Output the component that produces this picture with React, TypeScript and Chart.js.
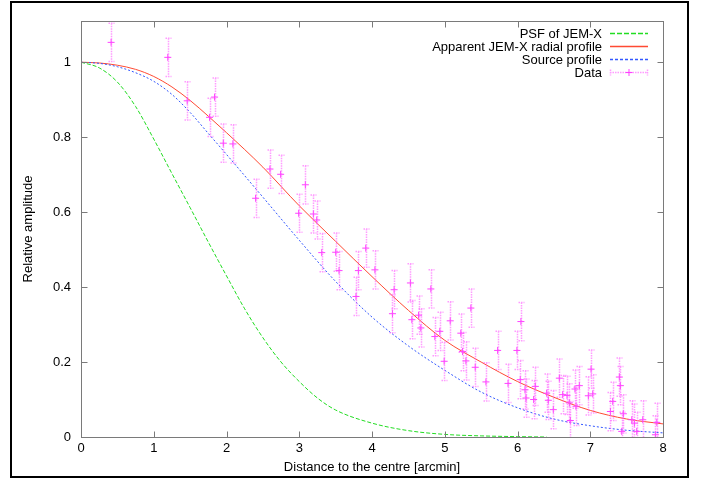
import { useEffect, useRef } from "react";
import { Chart, registerables } from "chart.js";

Chart.register(...registerables);

const X_TICKS = [0, 1, 2, 3, 4, 5, 6, 7, 8];
const Y_TICKS = [0, 0.2, 0.4, 0.6, 0.8, 1];
const Y_TICK_LABELS = ["0", "0.2", "0.4", "0.6", "0.8", "1"];

const X_TITLE = "Distance to the centre [arcmin]";
const Y_TITLE = "Relative amplitude";

const SERIES_LABELS = ["PSF of JEM-X", "Apparent JEM-X radial profile", "Source profile", "Data"];

const PSF_X = [0, 0.25, 0.5, 0.75, 1.0, 1.25, 1.5, 1.75, 2.0, 2.25, 2.5, 2.75, 3.0, 3.25, 3.5, 4.0, 4.5, 5.0, 5.5, 6.0, 6.4];
const PSF_Y = [1.0, 0.985, 0.947, 0.882, 0.795, 0.703, 0.612, 0.52, 0.43, 0.342, 0.265, 0.2, 0.148, 0.104, 0.072, 0.037, 0.017, 0.007, 0.003, 0.001, 0.0];

const APP_X = [0, 0.25, 0.5, 0.75, 1.0, 1.25, 1.5, 1.75, 2.0, 2.5, 3.0, 3.5, 4.0, 4.5, 5.0, 5.5, 6.0, 6.5, 7.0, 7.5, 8.0];
const APP_Y = [1.0, 0.998, 0.992, 0.981, 0.962, 0.934, 0.898, 0.856, 0.812, 0.72, 0.617, 0.522, 0.428, 0.338, 0.258, 0.2, 0.148, 0.106, 0.071, 0.048, 0.035];

const SRC_X = [0, 0.25, 0.5, 0.75, 1.0, 1.25, 1.5, 1.75, 2.0, 2.5, 3.0, 3.5, 4.0, 4.5, 5.0, 5.5, 6.0, 6.5, 7.0, 7.5, 8.0];
const SRC_Y = [1.0, 0.997, 0.988, 0.972, 0.949, 0.914, 0.866, 0.81, 0.754, 0.64, 0.525, 0.415, 0.32, 0.243, 0.178, 0.12, 0.078, 0.048, 0.03, 0.018, 0.011];

const DATA_X = [
  0.414, 1.193, 1.46, 1.767, 1.836, 1.956, 2.088, 2.4, 2.597, 2.744,
  2.992, 3.084, 3.194, 3.24, 3.309, 3.501, 3.547, 3.78, 3.813, 3.914,
  4.04, 4.281, 4.304, 4.528, 4.548, 4.64, 4.671, 4.809, 4.864, 4.932,
  4.992, 5.075, 5.221, 5.245, 5.291, 5.359, 5.419, 5.566, 5.727, 5.87,
  5.992, 6.038, 6.047, 6.103, 6.117, 6.222, 6.245, 6.401, 6.424, 6.492,
  6.575, 6.621, 6.681, 6.713, 6.726, 6.79, 6.804, 6.85, 6.974, 7.011,
  7.034, 7.277, 7.309, 7.4, 7.414, 7.433, 7.455, 7.571, 7.607, 7.639,
  7.722, 7.896, 7.915,
];
const DATA_Y = [
  1.053, 1.013, 0.897, 0.853, 0.907, 0.784, 0.782, 0.637, 0.715, 0.701,
  0.597, 0.673, 0.595, 0.579, 0.492, 0.493, 0.444, 0.375, 0.444, 0.504,
  0.446, 0.329, 0.393, 0.411, 0.313, 0.325, 0.291, 0.395, 0.268, 0.282,
  0.202, 0.31, 0.277, 0.228, 0.203, 0.344, 0.186, 0.147, 0.231, 0.143,
  0.231, 0.153, 0.308, 0.126, 0.104, 0.1, 0.135, 0.117, 0.098, 0.073,
  0.157, 0.113, 0.111, 0.091, 0.044, 0.128, 0.082, 0.137, 0.11, 0.181,
  0.115, 0.068, 0.095, 0.16, 0.137, 0.015, 0.062, 0.046, 0.037, 0.015,
  0.046, 0.006, 0.039,
];
const DATA_ERR = 0.051;

const GREEN = "#22dd22";
const RED = "#ff4a33";
const BLUE = "#3358ff";
const MAGENTA = "#ff40ff";
const BAR = "rgba(255,90,255,0.6)";
const FONT = "'Liberation Sans', Arial, Helvetica, sans-serif";
const FS = 13;

const toPts = (xs: number[], ys: number[]) => xs.map((x, i) => ({ x, y: ys[i] }));

const gnuplotPlugin = {
  id: "gnuplotDecor",
  beforeDraw(chart: any) {
    const { ctx, width, height } = chart;
    ctx.save();
    ctx.fillStyle = "#fff";
    ctx.fillRect(0, 0, width, height);
    ctx.restore();
  },
  afterDatasetsDraw(chart: any) {
    const { ctx, chartArea: a, scales } = chart;
    const xs = scales.x;
    const ys = scales.y;
    ctx.save();
    ctx.beginPath();
    ctx.rect(a.left, a.top, a.right - a.left, a.bottom - a.top);
    ctx.clip();
    ctx.strokeStyle = BAR;
    ctx.lineWidth = 1.5;
    ctx.setLineDash([1.5, 1]);
    for (let i = 0; i < DATA_X.length; i++) {
      const px = Math.round(xs.getPixelForValue(DATA_X[i])) + 0.5;
      const top = ys.getPixelForValue(DATA_Y[i] + DATA_ERR);
      const bot = ys.getPixelForValue(DATA_Y[i] - DATA_ERR);
      ctx.beginPath();
      ctx.moveTo(px, top);
      ctx.lineTo(px, bot);
      ctx.moveTo(px - 3, top);
      ctx.lineTo(px + 3, top);
      ctx.moveTo(px - 3, bot);
      ctx.lineTo(px + 3, bot);
      ctx.stroke();
    }
    ctx.restore();
  },
  afterDraw(chart: any) {
    const { ctx, chartArea: a, scales } = chart;
    const xs = scales.x;
    const ys = scales.y;
    ctx.save();
    // plot border
    ctx.strokeStyle = "#7a7a7a";
    ctx.lineWidth = 1;
    ctx.setLineDash([]);
    const L = Math.round(a.left) + 0.5;
    const R = Math.round(a.right) + 0.5;
    const T = Math.round(a.top) + 0.5;
    const B = Math.round(a.bottom) + 0.5;
    ctx.strokeRect(L, T, R - L, B - T);
    // inward ticks
    const tl = 6;
    ctx.beginPath();
    X_TICKS.forEach((v) => {
      const px = Math.round(xs.getPixelForValue(v)) + 0.5;
      ctx.moveTo(px, B);
      ctx.lineTo(px, B - tl);
      ctx.moveTo(px, T);
      ctx.lineTo(px, T + tl);
    });
    Y_TICKS.forEach((v) => {
      const py = Math.round(ys.getPixelForValue(v)) + 0.5;
      ctx.moveTo(L, py);
      ctx.lineTo(L + tl, py);
      ctx.moveTo(R, py);
      ctx.lineTo(R - tl, py);
    });
    ctx.stroke();
    ctx.restore();

    // legend
    const textRight = 602;
    const s0 = 610;
    const s1 = 648;
    const rows = [33.5, 46.5, 59.5, 72.5];
    const samples: { color: string; dash: number[] }[] = [
      { color: GREEN, dash: [5, 2] },
      { color: RED, dash: [] },
      { color: BLUE, dash: [3, 2] },
    ];
    ctx.save();
    ctx.font = `${FS}px ${FONT}`;
    ctx.fillStyle = "#000";
    ctx.textAlign = "right";
    ctx.textBaseline = "middle";
    SERIES_LABELS.forEach((lab, i) => ctx.fillText(lab, textRight, rows[i] + 1));
    ctx.restore();
    samples.forEach((s, i) => {
      ctx.save();
      ctx.strokeStyle = s.color;
      ctx.lineWidth = 1.5;
      ctx.setLineDash(s.dash);
      ctx.beginPath();
      ctx.moveTo(s0, rows[i]);
      ctx.lineTo(s1, rows[i]);
      ctx.stroke();
      ctx.restore();
    });
    // data sample
    ctx.save();
    ctx.strokeStyle = BAR;
    ctx.lineWidth = 1.5;
    ctx.setLineDash([1.5, 1]);
    ctx.beginPath();
    ctx.moveTo(s0, rows[3]);
    ctx.lineTo(s1, rows[3]);
    ctx.moveTo(s0 + 0.5, rows[3] - 3);
    ctx.lineTo(s0 + 0.5, rows[3] + 3);
    ctx.moveTo(s1 - 0.5, rows[3] - 3);
    ctx.lineTo(s1 - 0.5, rows[3] + 3);
    ctx.stroke();
    ctx.strokeStyle = MAGENTA;
    ctx.lineWidth = 1;
    ctx.setLineDash([]);
    ctx.beginPath();
    const mc = (s0 + s1) / 2;
    ctx.moveTo(mc - 3.5, rows[3]);
    ctx.lineTo(mc + 3.5, rows[3]);
    ctx.moveTo(mc, rows[3] - 3.5);
    ctx.lineTo(mc, rows[3] + 3.5);
    ctx.stroke();

    // outer frame
    ctx.strokeStyle = "#000";
    ctx.lineWidth = 2;
    ctx.strokeRect(11, 2, 677, 475);
    ctx.restore();
  },
};

export default function App() {
  const ref = useRef<HTMLCanvasElement | null>(null);

  useEffect(() => {
    if (!ref.current) return;
    const chart = new Chart(ref.current, {
      type: "scatter",
      data: {
        datasets: [
          {
            label: SERIES_LABELS[0],
            data: toPts(PSF_X, PSF_Y),
            showLine: true,
            borderColor: GREEN,
            borderWidth: 1,
            borderDash: [4, 2],
            pointRadius: 0,
            cubicInterpolationMode: "monotone",
            order: 3,
          },
          {
            label: SERIES_LABELS[1],
            data: toPts(APP_X, APP_Y),
            showLine: true,
            borderColor: RED,
            borderWidth: 1,
            pointRadius: 0,
            cubicInterpolationMode: "monotone",
            order: 2,
          },
          {
            label: SERIES_LABELS[2],
            data: toPts(SRC_X, SRC_Y),
            showLine: true,
            borderColor: BLUE,
            borderWidth: 1,
            borderDash: [2, 2],
            pointRadius: 0,
            cubicInterpolationMode: "monotone",
            order: 1,
          },
          {
            label: SERIES_LABELS[3],
            data: toPts(DATA_X, DATA_Y),
            showLine: false,
            pointStyle: "cross",
            pointRadius: 3.5,
            borderColor: MAGENTA,
            backgroundColor: MAGENTA,
            pointBorderWidth: 1,
            order: 0,
          },
        ],
      },
      options: {
        responsive: false,
        animation: false,
        layout: { padding: { left: 0, right: 41, top: 21, bottom: 0 } },
        plugins: {
          legend: { display: false },
          tooltip: { enabled: false },
          title: { display: false },
        },
        scales: {
          x: {
            type: "linear",
            min: 0,
            max: 8,
            grid: { display: false, drawTicks: false },
            border: { display: false },
            afterBuildTicks: (s: any) => {
              s.ticks = X_TICKS.map((v) => ({ value: v }));
            },
            ticks: {
              color: "#000",
              padding: 4,
              font: { family: FONT, size: FS },
              maxRotation: 0,
              callback: (v: any) => String(v),
            },
            title: {
              display: true,
              text: X_TITLE,
              color: "#000",
              font: { family: FONT, size: FS },
              padding: { top: 0, bottom: 4 },
            },
            afterFit: (s: any) => {
              s.height = 42;
            },
          },
          y: {
            type: "linear",
            min: 0,
            max: 1.11,
            grid: { display: false, drawTicks: false },
            border: { display: false },
            afterBuildTicks: (s: any) => {
              s.ticks = Y_TICKS.map((v) => ({ value: v }));
            },
            ticks: {
              color: "#000",
              padding: 10,
              font: { family: FONT, size: FS },
              callback: (_v: any, i: number) => Y_TICK_LABELS[i],
            },
            title: {
              display: true,
              text: Y_TITLE,
              color: "#000",
              font: { family: FONT, size: FS },
              padding: { top: 21, bottom: 0 },
            },
            afterFit: (s: any) => {
              s.width = 81;
            },
          },
        },
      },
      plugins: [gnuplotPlugin],
    } as any);
    return () => chart.destroy();
  }, []);

  return (
    <div style={{ position: "fixed", left: 0, top: 0, width: 704, height: 479, background: "#fff" }}>
      <canvas ref={ref} width={704} height={479} style={{ width: 704, height: 479, display: "block" }} />
    </div>
  );
}
